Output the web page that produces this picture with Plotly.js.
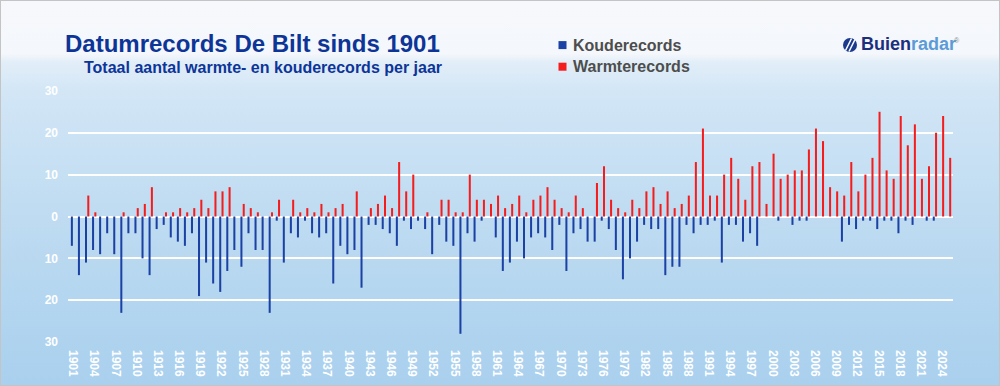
<!DOCTYPE html>
<html><head><meta charset="utf-8">
<script src="https://cdn.plot.ly/plotly-3.0.1.min.js"></script>
<style>
html,body{margin:0;padding:0;background:#fff;}
#wrap{position:relative;width:1000px;height:386px;overflow:hidden;
background:linear-gradient(to bottom,#f6f8fc 0px,#f4f7fb 54px,#e2eef8 62px,#d2e6f6 92px,#bedbf1 220px,#a9d0ee 386px);}
#chart{position:absolute;left:0;top:0;width:1000px;height:386px;}
#frame{position:absolute;left:0;top:0;width:1000px;height:386px;box-sizing:border-box;border:1px solid #c4c4c4;pointer-events:none;}
</style></head>
<body><div id="wrap"><div id="chart"></div><div id="frame"></div></div>
<script>
const years = [1901,1902,1903,1904,1905,1906,1907,1908,1909,1910,1911,1912,1913,1914,1915,1916,1917,1918,1919,1920,
1921,1922,1923,1924,1925,1926,1927,1928,1929,1930,1931,1932,1933,1934,1935,1936,1937,1938,1939,1940,
1941,1942,1943,1944,1945,1946,1947,1948,1949,1950,1951,1952,1953,1954,1955,1956,1957,1958,1959,1960,
1961,1962,1963,1964,1965,1966,1967,1968,1969,1970,1971,1972,1973,1974,1975,1976,1977,1978,1979,1980,
1981,1982,1983,1984,1985,1986,1987,1988,1989,1990,1991,1992,1993,1994,1995,1996,1997,1998,1999,2000,
2001,2002,2003,2004,2005,2006,2007,2008,2009,2010,2011,2012,2013,2014,2015,2016,2017,2018,2019,2020,
2021,2022,2023,2024,2025];

// number of cold records per year (drawn downward)
const kouderecords = [7,14,11,8,9,4,9,23,4,4,10,14,3,2,5,6,7,4,19,11,
16,18,13,8,12,4,8,8,23,1,11,4,5,1,4,5,4,16,7,9,
8,17,2,2,3,4,7,1,3,1,3,9,2,6,7,28,4,6,1,0,
5,13,11,6,10,5,4,5,8,2,13,4,3,6,6,1,3,8,15,10,
6,2,3,3,14,12,12,2,4,2,2,1,11,2,2,6,4,7,0,0,
1,0,2,1,1,0,0,0,0,6,2,3,1,1,3,1,1,4,1,2,
0,1,1,0,0];

// number of warm records per year (drawn upward)
const warmterecords = [0,0,5,1,0,0,0,1,0,2,3,7,0,1,1,2,1,2,4,2,
6,6,7,0,3,2,1,0,1,4,0,4,1,2,1,3,1,2,3,0,
6,0,2,3,5,2,13,6,10,0,1,0,4,4,1,1,10,4,4,3,
5,2,3,5,1,4,5,7,4,2,1,5,2,0,8,12,4,2,1,4,
2,6,7,3,6,2,3,5,13,21,5,5,10,14,9,4,12,13,3,15,
9,10,11,11,16,21,18,7,6,5,13,6,10,14,25,11,9,24,17,22,
9,12,20,24,14];

const xTickVals = [1901,1904,1907,1910,1913,1916,1919,1922,1925,1928,1931,1934,1937,1940,1943,1946,1949,1952,1955,1958,
1961,1964,1967,1970,1973,1976,1979,1982,1985,1988,1991,1994,1997,2000,2003,2006,2009,2012,2015,2018,2021,2024];
const yTickVals = [-30,-20,-10,0,10,20,30];
const yTickText = ['30','20','10','0','10','20','30'];

const seriesNames = ['Kouderecords', 'Warmterecords'];
const seriesColors = ['#1a41a3', '#f41c1c'];

const W = 1000, H = 386;
const M = {l:68, r:47, t:90, b:43, autoexpand:false};
const pw = W - M.l - M.r, ph = H - M.t - M.b;
const px = x => (x - M.l) / pw;
const py = y => (H - M.b - y) / ph;

const traces = [
  {type:'bar', name:seriesNames[0], x: years, y: kouderecords.map(v => -v),
   marker:{color:seriesColors[0], line:{width:0}}},
  {type:'bar', name:seriesNames[1], x: years, y: warmterecords,
   marker:{color:seriesColors[1], line:{width:0}}}
];

const font = 'Liberation Sans, Arial, sans-serif';

// legend drawn as annotations + squares to match the original spacing
const legendRows = [45.1, 66.7];
const legendAnn = seriesNames.map((n, i) => ({
  text:n, xref:'paper', yref:'paper', x:px(570.5), y:py(legendRows[i]), xanchor:'left', yanchor:'middle',
  showarrow:false, font:{family:font, size:16, color:'#4d4d4d', weight:'bold'}
}));
const legendShapes = seriesColors.map((c, i) => ({
  type:'rect', xref:'paper', yref:'paper', x0:px(558.5), x1:px(566.5),
  y0:py(legendRows[i] - 4), y1:py(legendRows[i] + 4), fillcolor:c, line:{width:0}
}));

const layout = {
  width: W, height: H,
  margin: M,
  paper_bgcolor:'rgba(0,0,0,0)', plot_bgcolor:'rgba(0,0,0,0)',
  barmode:'group', bargap:0.35, bargroupgap:0.12,
  font:{family:font},
  title:{text:'Datumrecords De Bilt sinds 1901', font:{family:font, size:24, color:'#0d3597', weight:'bold'},
         xref:'container', yref:'container', x:0.065, xanchor:'left', y:1-43.3/H, yanchor:'middle', automargin:false},
  showlegend:false,
  xaxis:{range:[1900.29, 2025.56], tickmode:'array', tickvals:xTickVals, ticktext:xTickVals.map(String),
         tickangle:90, tickfont:{family:font, size:12, color:'#ffffff', weight:'bold'}, ticklabelstandoff:6,
         showgrid:false, zeroline:false, showline:false, ticks:'', fixedrange:true, automargin:false},
  yaxis:{range:[-30.2, 30.2], tickmode:'array', tickvals:yTickVals, ticktext:yTickText,
         tickfont:{family:font, size:12, color:'#ffffff', weight:'bold'}, ticklabelstandoff:9,
         showgrid:true, gridcolor:'#ffffff', gridwidth:2,
         zeroline:true, zerolinecolor:'#ffffff', zerolinewidth:2, showline:false, ticks:'', fixedrange:true, automargin:false},
  annotations:[
    {text:'Totaal aantal warmte- en kouderecords per jaar', xref:'paper', yref:'paper', x:px(82), y:py(67.1),
     xanchor:'left', yanchor:'middle', showarrow:false, font:{family:font, size:16, color:'#0d3597', weight:'bold'}},
    {text:'<span style="color:#1b2f7c">Buien</span><span style="color:#5b9bd8">radar</span>', xref:'paper', yref:'paper',
     x:px(859), y:py(44.5), xanchor:'left', yanchor:'middle', showarrow:false,
     font:{family:font, size:18, weight:'bold'}},
    {text:'®', xref:'paper', yref:'paper', x:px(952), y:py(40), xanchor:'left', yanchor:'middle', showarrow:false,
     font:{family:font, size:7, color:'#8a8a8a'}}
  ].concat(legendAnn),
  shapes:[
    {type:'circle', xref:'paper', yref:'paper', x0:px(843), x1:px(857), y0:py(52), y1:py(38),
     fillcolor:'#1b3a8c', line:{width:0}},
    {type:'line', xref:'paper', yref:'paper', x0:px(845.5), x1:px(851.5), y0:py(50.5), y1:py(38.5),
     line:{color:'#ffffff', width:1.6}},
    {type:'line', xref:'paper', yref:'paper', x0:px(849), x1:px(855), y0:py(51.5), y1:py(39.5),
     line:{color:'#ffffff', width:1.6}}
  ].concat(legendShapes)
};

Plotly.newPlot('chart', traces, layout, {staticPlot:true, displayModeBar:false});
</script>
</body></html>
